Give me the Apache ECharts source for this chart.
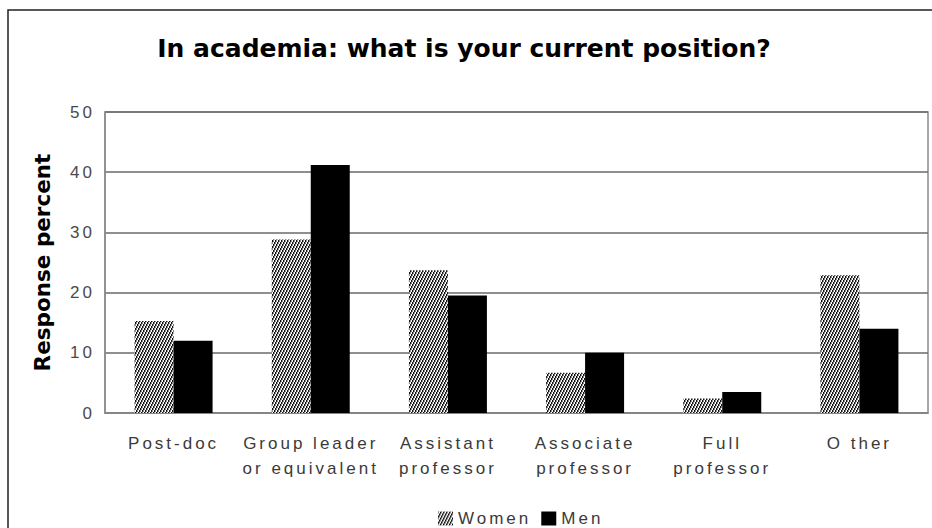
<!DOCTYPE html>
<html>
<head>
<meta charset="utf-8">
<script src="https://cdn.jsdelivr.net/npm/echarts@6/dist/echarts.min.js"></script>
<style>
  html, body { margin: 0; padding: 0; background: #ffffff; }
  #chart { width: 932px; height: 528px; }
  /* axis and legend texts are drawn with wide tracking */
  #chart text[style*="Liberation Sans"] { letter-spacing: 3px; }
</style>
</head>
<body>
<div id="chart"></div>
<script>
// Survey answers, percent of respondents
const categories = ['Post-doc', 'Group leader\nor equivalent', 'Assistant\nprofessor', 'Associate\nprofessor', 'Full\nprofessor', 'O ther'];
const women = [15.3, 28.8, 23.7, 6.7, 2.4, 22.9];
const men = [12.0, 41.2, 19.5, 10.0, 3.5, 14.0];
const yTicks = { min: 0, max: 50, interval: 10 };

// Steep diagonal hatch used for the women series
function hatch() {
  const c = document.createElement('canvas');
  c.width = 3; c.height = 6;
  const g = c.getContext('2d');
  g.fillStyle = '#ffffff';
  g.fillRect(0, 0, 3, 6);
  for (let r = 0; r < 6; r++) {
    const x = (2 - Math.floor(r / 2) + 3) % 3;
    g.fillStyle = '#111111';
    g.fillRect(x, r, 1, 1);
    g.fillStyle = '#8a8a8a';
    g.fillRect((x + 1) % 3, r, 1, 1);
  }
  return c;
}
const hatchCanvas = hatch();
const womenFill = { image: hatchCanvas, repeat: 'repeat', imageWidth: 3, imageHeight: 6 };

const labelFont = 'Liberation Sans';
const chart = echarts.init(document.getElementById('chart'), null, { renderer: 'svg' });
chart.setOption({
  animation: false,
  backgroundColor: '#ffffff',
  graphic: [{
    type: 'rect',
    shape: { x: 8, y: 10, width: 940, height: 540 },
    style: { fill: 'none', stroke: '#222222', lineWidth: 1.5 },
    silent: true
  }],
  title: {
    text: 'In academia: what is your current position?',
    left: 459, top: 31, textAlign: 'center',
    textStyle: { fontFamily: 'DejaVu Sans', fontWeight: 'bold', fontSize: 25, color: '#000000' }
  },
  legend: {
    left: 433, top: 505,
    itemWidth: 15, itemHeight: 14, itemGap: 25,
    icon: 'rect',
    textStyle: { fontFamily: labelFont, fontSize: 17, color: '#3a3a3a' },
    data: ['Women', 'Men']
  },
  grid: {
    left: 105, right: 4, top: 112, bottom: 115,
    show: true, borderColor: '#8a8a8a', borderWidth: 1.5, containLabel: false
  },
  xAxis: {
    type: 'category',
    data: categories,
    axisLine: { lineStyle: { color: '#8a8a8a', width: 1.5 } },
    axisTick: { show: false },
    axisLabel: {
      interval: 0, margin: 18,
      fontFamily: labelFont, fontSize: 17, lineHeight: 25, color: '#3a3a3a'
    }
  },
  yAxis: {
    type: 'value',
    min: yTicks.min, max: yTicks.max, interval: yTicks.interval,
    name: 'Response percent',
    nameLocation: 'middle', nameGap: 52,
    nameTextStyle: { fontFamily: 'DejaVu Sans', fontWeight: 'bold', fontSize: 21.5, color: '#000000' },
    axisLine: { show: true, lineStyle: { color: '#8a8a8a', width: 1.5 } },
    axisTick: { show: false },
    splitLine: { lineStyle: { color: '#6a6a6a', width: 1.5 } },
    axisLabel: { margin: 10, fontFamily: labelFont, fontSize: 17, color: '#4a4a4a' }
  },
  series: [
    {
      name: 'Women', type: 'bar', data: women,
      barWidth: 39, barGap: '0%',
      itemStyle: { color: womenFill }
    },
    {
      name: 'Men', type: 'bar', data: men,
      barWidth: 39, barGap: '0%',
      itemStyle: { color: '#000000' }
    }
  ]
});
</script>
</body>
</html>
